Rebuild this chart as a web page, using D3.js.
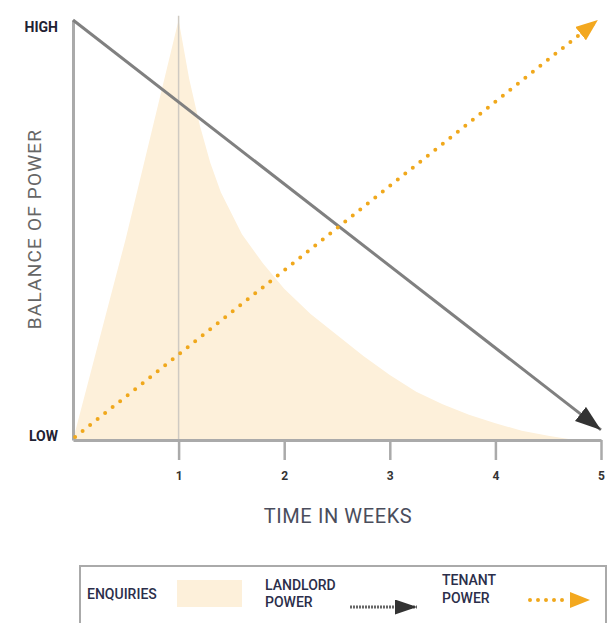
<html>
  <head>
    <style>
      body { margin: 0; background: #fff; }
      text { font-family: Roboto, "Liberation Sans", sans-serif; }
    </style>
  </head>
  <body>
    <svg id="container" width="611" height="623"></svg>
    <script src="https://cdn.jsdelivr.net/npm/d3@7"></script>
    <script>
      // data (weeks on x, power 0 = LOW .. 1 = HIGH)
      let weekTicks = [1, 2, 3, 4, 5];
      let enquiryWeeks = [0, 0.5, 1, 1.1, 1.2, 1.3, 1.4, 1.6, 1.8, 2, 2.25, 2.5, 2.75, 3, 3.25, 3.5, 3.75, 4, 4.25, 4.5, 4.75];
      let enquiryValues = [0, 0.48, 1.0, 0.86, 0.75, 0.66, 0.59, 0.49, 0.42, 0.36, 0.3, 0.25, 0.2, 0.155, 0.115, 0.085, 0.06, 0.04, 0.022, 0.01, 0];
      let landlordWeeks = [0, 5];
      let landlordPower = [1, 0.024];
      let tenantWeeks = [0.02, 4.97];
      let tenantPower = [0.007, 1];
      let yLabels = ["LOW", "HIGH"];

      let svg = d3.select("#container");
      let x = d3.scaleLinear().domain([0, 5]).range([73, 601]);
      let y = d3.scaleLinear().domain([0, 1]).range([440, 20]);

      let defs = svg.append("defs");
      function addArrow(id, color, len, wid) {
        defs.append("marker")
          .attr("id", id)
          .attr("markerUnits", "userSpaceOnUse")
          .attr("viewBox", `0 0 ${len} ${wid}`)
          .attr("refX", len).attr("refY", wid / 2)
          .attr("markerWidth", len).attr("markerHeight", wid)
          .attr("orient", "auto")
          .append("path")
          .attr("d", `M0,0L${len},${wid / 2}L0,${wid}Z`)
          .attr("fill", color);
      }
      addArrow("darkHead", "#333", 26, 18);
      addArrow("orangeHead", "#f3a81f", 22, 17);
      addArrow("darkHeadSmall", "#333", 22, 15);
      addArrow("orangeHeadSmall", "#f3a81f", 20, 16);

      // enquiries area
      let enquiries = enquiryWeeks.map((w, i) => [w, enquiryValues[i]]);
      svg.append("path")
        .datum(enquiries)
        .attr("fill", "#fdf0da")
        .attr("d", d3.area().x(d => x(d[0])).y0(y(0)).y1(d => y(d[1])));

      // week 1 guide
      svg.append("line")
        .attr("x1", x(1)).attr("x2", x(1))
        .attr("y1", y(0)).attr("y2", y(1.01))
        .attr("stroke", "#cfcac2").attr("stroke-width", 1.5);

      // axes
      let xAxis = svg.append("g")
        .attr("transform", `translate(0,${y(0)})`)
        .call(d3.axisBottom(x).tickValues(weekTicks).tickFormat(d3.format("d"))
          .tickSize(20).tickPadding(11).tickSizeOuter(0));
      xAxis.select(".domain").attr("stroke", "#aaa").attr("stroke-width", 3);
      xAxis.selectAll(".tick line").attr("stroke", "#aaa").attr("stroke-width", 2.5);
      xAxis.selectAll(".tick text")
        .attr("font-family", "Roboto, sans-serif")
        .attr("font-size", 12).attr("font-weight", "bold").attr("fill", "#333");

      let yAxis = svg.append("g")
        .attr("transform", `translate(${x(0)},0)`)
        .call(d3.axisLeft(y).tickValues([0, 1]).tickSize(0).tickPadding(15)
          .tickFormat((d, i) => yLabels[i]));
      yAxis.select(".domain").attr("stroke", "#aaa").attr("stroke-width", 3);
      yAxis.selectAll(".tick text")
        .attr("font-family", "Roboto, sans-serif")
        .attr("font-size", 14).attr("font-weight", "bold").attr("fill", "#1f2233");
      yAxis.selectAll(".tick").filter(d => d === 1).select("text").attr("dy", "0.85em");
      yAxis.selectAll(".tick").filter(d => d === 0).select("text").attr("dy", "0");

      // landlord power line
      let line = d3.line().x(d => x(d[0])).y(d => y(d[1]));
      svg.append("path")
        .datum(landlordWeeks.map((w, i) => [w, landlordPower[i]]))
        .attr("d", line)
        .attr("fill", "none")
        .attr("stroke", "#808080").attr("stroke-width", 3)
        .attr("marker-end", "url(#darkHead)");

      // tenant power line
      let tenant = tenantWeeks.map((w, i) => [w, tenantPower[i]]);
      svg.append("path")
        .datum(tenant)
        .attr("d", line)
        .attr("fill", "none")
        .attr("stroke", "#f0a81c").attr("stroke-width", 4)
        .attr("stroke-linecap", "round")
        .attr("stroke-dasharray", "0 9.6");
      let headStart = [tenant[0][0] + (tenant[1][0] - tenant[0][0]) * 0.97,
                       tenant[0][1] + (tenant[1][1] - tenant[0][1]) * 0.97];
      svg.append("path")
        .datum([headStart, tenant[1]])
        .attr("d", line)
        .attr("stroke", "none")
        .attr("marker-end", "url(#orangeHead)");

      // axis titles
      svg.append("text")
        .attr("transform", "translate(41,229) rotate(-90)")
        .attr("text-anchor", "middle")
        .attr("font-size", 19).attr("fill", "#666")
        .style("letter-spacing", "1.2px")
        .text("BALANCE OF POWER");
      svg.append("text")
        .attr("x", 338).attr("y", 523)
        .attr("text-anchor", "middle")
        .attr("font-size", 20).attr("fill", "#4a4d5c")
        .style("letter-spacing", "0.6px")
        .text("TIME IN WEEKS");

      // legend
      let legend = svg.append("g");
      legend.append("rect")
        .attr("x", 80).attr("y", 566).attr("width", 526).attr("height", 70)
        .attr("fill", "#fff").attr("stroke", "#aaa").attr("stroke-width", 2);
      legend.append("text")
        .attr("x", 87).attr("y", 599)
        .attr("font-size", 14).attr("font-weight", 500).attr("fill", "#2b2e4a")
        .text("ENQUIRIES");
      legend.append("rect")
        .attr("x", 177).attr("y", 580).attr("width", 65).attr("height", 27)
        .attr("fill", "#fdf0da");
      let ll = legend.append("text")
        .attr("font-size", 14).attr("font-weight", 500).attr("fill", "#2b2e4a");
      ll.append("tspan").attr("x", 265).attr("y", 590).text("LANDLORD");
      ll.append("tspan").attr("x", 265).attr("y", 607).text("POWER");
      legend.append("line")
        .attr("x1", 350).attr("x2", 417).attr("y1", 607).attr("y2", 607)
        .attr("stroke", "#666").attr("stroke-width", 3)
        .attr("stroke-dasharray", "2 1")
        .attr("marker-end", "url(#darkHeadSmall)");
      let tl = legend.append("text")
        .attr("font-size", 14).attr("font-weight", 500).attr("fill", "#2b2e4a");
      tl.append("tspan").attr("x", 442).attr("y", 585).text("TENANT");
      tl.append("tspan").attr("x", 442).attr("y", 603).text("POWER");
      legend.append("line")
        .attr("x1", 530).attr("x2", 570).attr("y1", 600).attr("y2", 600)
        .attr("stroke", "#f0a81c").attr("stroke-width", 4)
        .attr("stroke-linecap", "round")
        .attr("stroke-dasharray", "0 8");
      legend.append("line")
        .attr("x1", 568).attr("x2", 590).attr("y1", 600).attr("y2", 600)
        .attr("stroke", "none")
        .attr("marker-end", "url(#orangeHeadSmall)");
    </script>
  </body>
</html>
